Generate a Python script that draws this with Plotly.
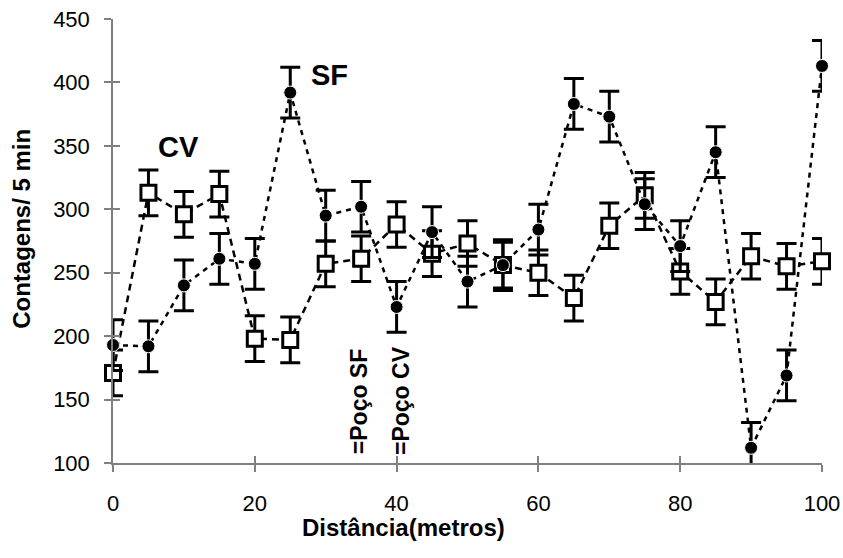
import plotly.graph_objects as go

distancia = [0, 5, 10, 15, 20, 25, 30, 35, 40, 45, 50, 55, 60, 65, 70, 75, 80, 85, 90, 95, 100]
sf = [193, 192, 240, 261, 257, 392, 295, 302, 223, 282, 243, 256, 284, 383, 373, 304, 271, 345, 112, 169, 413]
sf_err = [20] * 21
cv = [171, 313, 296, 312, 198, 197, 257, 261, 288, 265, 273, 256, 250, 230, 287, 311, 251, 227, 263, 255, 259]
cv_err = [18] * 21

x_ticks = [0, 20, 40, 60, 80, 100]
y_ticks = [100, 150, 200, 250, 300, 350, 400, 450]

font = "Liberation Sans, Arial, sans-serif"

fig = go.Figure()
fig.add_trace(go.Scatter(
    x=distancia, y=cv, mode="lines+markers", name="CV",
    line=dict(color="black", width=2.5, dash="7px,5px"),
    marker=dict(symbol="square", size=15, color="white", line=dict(color="black", width=3)),
    error_y=dict(type="data", array=cv_err, color="black", thickness=3, width=10),
    cliponaxis=False,
))
fig.add_trace(go.Scatter(
    x=distancia, y=sf, mode="lines+markers", name="SF",
    line=dict(color="black", width=2.5, dash="5px,5px"),
    marker=dict(symbol="circle", size=13, color="black", line=dict(color="white", width=1)),
    error_y=dict(type="data", array=sf_err, color="black", thickness=3, width=10),
    cliponaxis=False,
))

tick_style = dict(showgrid=False, zeroline=False, tickcolor="#808080", tickwidth=1.5, ticklen=7,
                  automargin=False)
fig.update_layout(
    width=843, height=558,
    margin=dict(l=113, r=21, t=19, b=95, autoexpand=False),
    plot_bgcolor="white", paper_bgcolor="white",
    showlegend=False,
    font=dict(family=font, size=22, color="black"),
    xaxis=dict(range=[0, 100], tickvals=x_ticks, ticks="outside", showline=True,
               linecolor="#808080", linewidth=1.5, ticklabelstandoff=13,
               ticklabeloverflow="allow", tickfont=dict(size=22), **tick_style),
    yaxis=dict(range=[100, 450], tickvals=y_ticks, ticks="outside", showline=True,
               linecolor="#808080", linewidth=1.5, ticklabelstandoff=10,
               ticklabeloverflow="allow", tickfont=dict(size=22), **tick_style),
    xaxis2=dict(range=[0, 100], tickvals=x_ticks, ticks="inside", showticklabels=False,
                overlaying="x", side="bottom", anchor="y", showline=False, **tick_style),
    yaxis2=dict(range=[100, 450], tickvals=y_ticks, ticks="inside", showticklabels=False,
                overlaying="y", side="left", anchor="x", showline=False, **tick_style),
)
fig.add_trace(go.Scatter(x=[None], y=[None], xaxis="x2", yaxis="y2", showlegend=False, hoverinfo="skip"))

# axis titles (positioned as in the original, slightly off-centre)
fig.add_annotation(xref="paper", yref="paper", x=0.41, y=-0.145, text="<b>Distância(metros)</b>",
                   showarrow=False, font=dict(size=24), xanchor="center", yanchor="middle")
fig.add_annotation(xref="paper", yref="paper", x=-0.13, y=0.527, text="<b>Contagens/ 5 min</b>",
                   showarrow=False, textangle=-90, font=dict(size=24), xanchor="center", yanchor="middle")

fig.add_annotation(x=9.2, y=349, text="<b>CV</b>", showarrow=False, font=dict(size=29), xanchor="center", yanchor="middle")
fig.add_annotation(x=30.5, y=406, text="<b>SF</b>", showarrow=False, font=dict(size=29), xanchor="center", yanchor="middle")
fig.add_annotation(x=34.7, y=105, text="<b>=Poço SF</b>", showarrow=False, textangle=-90,
                   font=dict(size=23), xanchor="center", yanchor="bottom")
fig.add_annotation(x=40.6, y=105, text="<b>=Poço CV</b>", showarrow=False, textangle=-90,
                   font=dict(size=23), xanchor="center", yanchor="bottom")

fig.write_html("out.html", config={"displayModeBar": False},
               post_script="document.body.style.margin='0';")
